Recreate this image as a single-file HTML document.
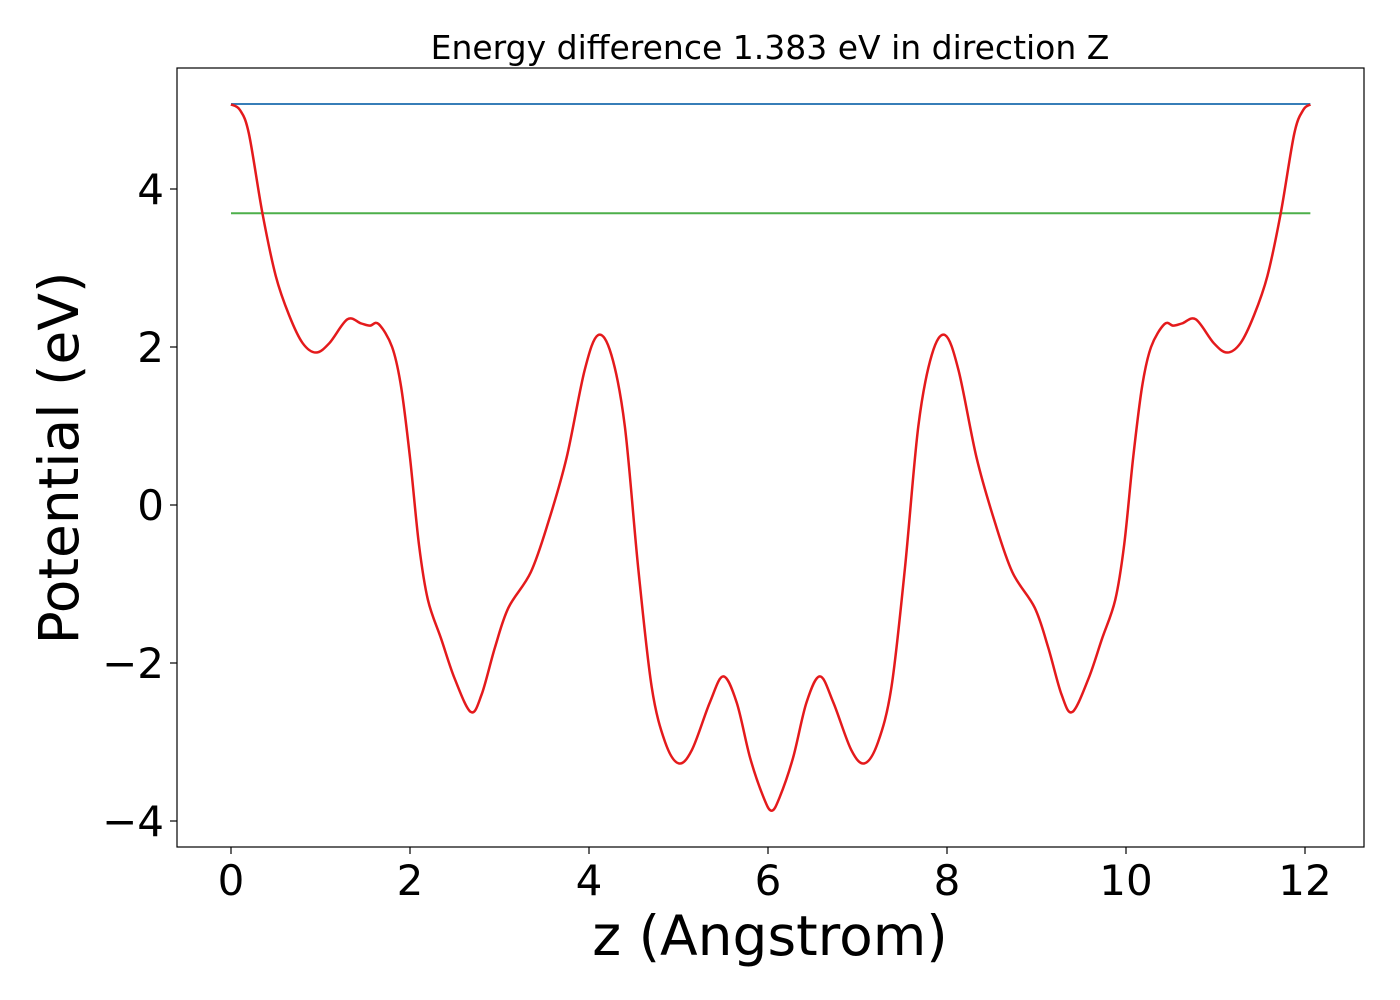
<!DOCTYPE html>
<html><head><meta charset="utf-8"><style>
body{margin:0;background:#fff;}
svg{display:block;font-family:"DejaVu Sans","Liberation Sans",sans-serif;}
</style></head><body>
<svg id="chart" width="1400" height="1000" xmlns="http://www.w3.org/2000/svg">
<rect width="1400" height="1000" fill="#fff"/>
<text x="770" y="59" font-size="33" text-anchor="middle">Energy difference 1.383 eV in direction Z</text>
<g id="plot"></g>
<rect x="177" y="68" width="1187" height="779" fill="none" stroke="#000" stroke-width="1.2"/>
<text x="770" y="955" font-size="55" text-anchor="middle">z (Angstrom)</text>
<text transform="translate(78,458) rotate(-90)" font-size="55" text-anchor="middle">Potential (eV)</text>
</svg>
<script>
const xTicks=[0,2,4,6,8,10,12];
const yTicks=[-4,-2,0,2,4];
const vacuumLevel=5.076;
const fermiLevel=3.693;
const zStart=0, zEnd=12.06;
const zVals=[0,0.1,0.2,0.35,0.5,0.65,0.8,0.95,1.1,1.3,1.45,1.55,1.65,1.8,1.9,2.0,2.1,2.2,2.35,2.5,2.68,2.8,2.95,3.1,3.35,3.55,3.75,3.95,4.1,4.25,4.4,4.55,4.7,4.85,5.0,5.15,5.35,5.5,5.65,5.8,5.95,6.04,6.13,6.28,6.43,6.58,6.73,6.93,7.08,7.23,7.38,7.53,7.68,7.83,7.98,8.13,8.33,8.53,8.73,8.98,9.13,9.28,9.40,9.58,9.73,9.88,9.98,10.08,10.18,10.28,10.43,10.53,10.63,10.78,10.98,11.13,11.28,11.43,11.58,11.73,11.88,11.98,12.06];
const potVals=[5.07,5.0,4.7,3.7,2.9,2.4,2.05,1.93,2.05,2.35,2.3,2.27,2.29,2.0,1.5,0.6,-0.5,-1.2,-1.7,-2.2,-2.62,-2.4,-1.8,-1.3,-0.85,-0.2,0.6,1.7,2.15,1.9,1.0,-0.8,-2.3,-3.0,-3.27,-3.1,-2.5,-2.17,-2.5,-3.2,-3.7,-3.87,-3.7,-3.2,-2.5,-2.17,-2.5,-3.1,-3.27,-3.0,-2.3,-0.8,1.0,1.9,2.15,1.7,0.6,-0.2,-0.85,-1.3,-1.8,-2.4,-2.62,-2.2,-1.7,-1.2,-0.5,0.6,1.5,2.0,2.29,2.27,2.3,2.35,2.05,1.93,2.05,2.4,2.9,3.7,4.7,5.0,5.07];
const X=v=>231+v*89.5;
const Y=v=>505-v*79;
const NS="http://www.w3.org/2000/svg";
const svg=document.getElementById('chart');
const g=document.getElementById('plot');
function mk(t,a,p){const e=document.createElementNS(NS,t);for(const k in a)e.setAttribute(k,a[k]);(p||g).appendChild(e);return e;}
xTicks.forEach(t=>{
 const l=mk('line',{x1:X(t),x2:X(t),y1:847,y2:854,stroke:'#000','stroke-width':1.2},svg);
 
 
 const tx=mk('text',{x:X(t),y:895,'font-size':42,'text-anchor':'middle'},svg);
 tx.textContent=String(t);
 
 
});
yTicks.forEach(t=>{
 const l=mk('line',{x1:170,x2:177,y1:Y(t),y2:Y(t),stroke:'#000','stroke-width':1.2},svg);
 
 
 const tx=mk('text',{x:164,y:Y(t)+15,'font-size':42,'text-anchor':'end'},svg);
 tx.textContent=t<0?'\u2212'+Math.abs(t):String(t);
 
 
});
const vl=mk('line',{x1:X(zStart),x2:X(zEnd),y1:Y(vacuumLevel),y2:Y(vacuumLevel),stroke:'#377eb8','stroke-width':2});


const fl=mk('line',{x1:X(zStart),x2:X(zEnd),y1:Y(fermiLevel),y2:Y(fermiLevel),stroke:'#4daf4a','stroke-width':2});


// Catmull-Rom smooth path
const P=zVals.map((z,i)=>[X(z),Y(potVals[i])]);
let d='M'+P[0][0]+','+P[0][1];
for(let i=0;i<P.length-1;i++){
 const p0=P[Math.max(i-1,0)],p1=P[i],p2=P[i+1],p3=P[Math.min(i+2,P.length-1)];
 const c1=[p1[0]+(p2[0]-p0[0])/6,p1[1]+(p2[1]-p0[1])/6];
 const c2=[p2[0]-(p3[0]-p1[0])/6,p2[1]-(p3[1]-p1[1])/6];
 d+=' C'+c1[0]+','+c1[1]+' '+c2[0]+','+c2[1]+' '+p2[0]+','+p2[1];
}
const pl=mk('path',{d:d,fill:'none',stroke:'#e41a1c','stroke-width':2.5});


</script>
</body></html>
